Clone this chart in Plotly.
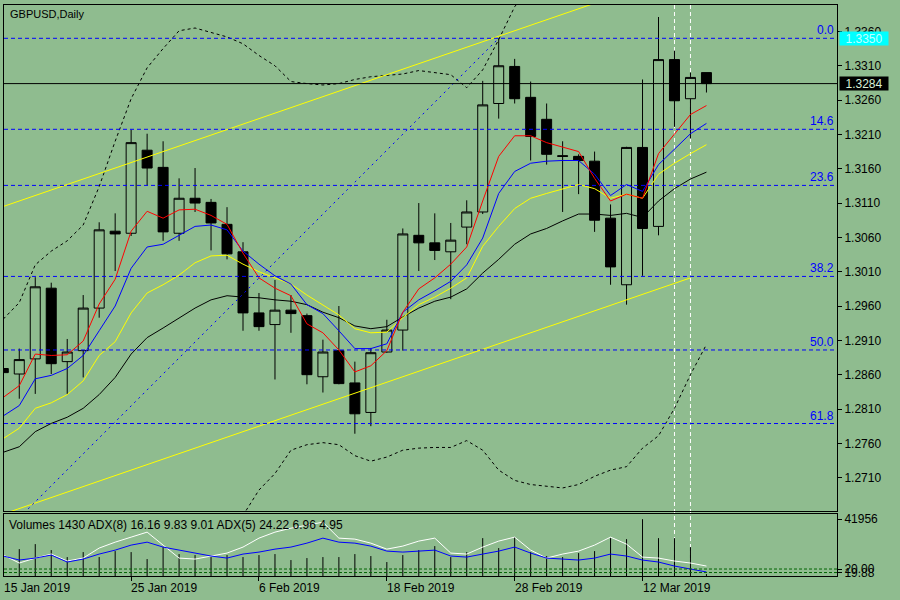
import plotly.graph_objects as go

# ---------------- data ----------------
DATES = ["2019-01-15", "2019-01-16", "2019-01-17", "2019-01-18", "2019-01-21", "2019-01-22",
         "2019-01-23", "2019-01-24", "2019-01-25", "2019-01-28", "2019-01-29", "2019-01-30",
         "2019-01-31", "2019-02-01", "2019-02-04", "2019-02-05", "2019-02-06", "2019-02-07",
         "2019-02-08", "2019-02-11", "2019-02-12", "2019-02-13", "2019-02-14", "2019-02-15",
         "2019-02-18", "2019-02-19", "2019-02-20", "2019-02-21", "2019-02-22", "2019-02-25",
         "2019-02-26", "2019-02-27", "2019-02-28", "2019-03-01", "2019-03-04", "2019-03-05",
         "2019-03-06", "2019-03-07", "2019-03-08", "2019-03-11", "2019-03-12", "2019-03-13",
         "2019-03-14", "2019-03-15", "2019-03-18"]

OPEN = [1.2869, 1.2861, 1.2883, 1.2986, 1.2879, 1.2895, 1.2957, 1.3069, 1.3066, 1.3187,
        1.3162, 1.3066, 1.3117, 1.3111, 1.3079, 1.3039, 1.2950, 1.2933, 1.2954, 1.2946,
        1.2857, 1.2895, 1.2848, 1.2805, 1.2893, 1.2925, 1.3063, 1.3052, 1.3039, 1.3075,
        1.3097, 1.3255, 1.3309, 1.3264, 1.3232, 1.3179, 1.3178, 1.3171, 1.3088, 1.2991,
        1.3191, 1.3076, 1.3319, 1.3262, 1.3300]
HIGH = [1.2874, 1.2898, 1.3002, 1.2994, 1.2912, 1.2976, 1.3082, 1.3095, 1.3217, 1.3211,
        1.3200, 1.3146, 1.3161, 1.3116, 1.3104, 1.3053, 1.2979, 1.2998, 1.2976, 1.2949,
        1.2911, 1.2960, 1.2879, 1.2899, 1.2940, 1.3073, 1.3110, 1.3095, 1.3081, 1.3114,
        1.3288, 1.3350, 1.3320, 1.3287, 1.3255, 1.3200, 1.3181, 1.3185, 1.3108, 1.3192,
        1.3290, 1.3381, 1.3332, 1.3300, 1.3300]
LOW = [1.2858, 1.2825, 1.2832, 1.2861, 1.2832, 1.2856, 1.2943, 1.3011, 1.3062, 1.3136,
       1.3055, 1.3055, 1.3097, 1.3041, 1.3028, 1.2924, 1.2924, 1.2853, 1.2921, 1.2846,
       1.2834, 1.2846, 1.2774, 1.2785, 1.2892, 1.2895, 1.3011, 1.3027, 1.2970, 1.3050,
       1.3094, 1.3233, 1.3255, 1.3172, 1.3166, 1.3097, 1.3123, 1.3068, 1.2991, 1.2962,
       1.3004, 1.3063, 1.3221, 1.3204, 1.3271]
CLOSE = [1.2863, 1.2882, 1.2988, 1.2876, 1.2893, 1.2957, 1.3071, 1.3065, 1.3198, 1.3161,
         1.3068, 1.3117, 1.3110, 1.3081, 1.3036, 1.2950, 1.2930, 1.2954, 1.2949, 1.2860,
         1.2893, 1.2847, 1.2803, 1.2892, 1.2925, 1.3065, 1.3052, 1.3041, 1.3056, 1.3097,
         1.3253, 1.3310, 1.3262, 1.3207, 1.3181, 1.3178, 1.3172, 1.3085, 1.3017, 1.3191,
         1.3073, 1.3319, 1.3259, 1.3293, 1.3284]

MA_RED = [1.2827, 1.2844, 1.2890, 1.2888, 1.2889, 1.2909, 1.2963, 1.2999, 1.3069, 1.3098,
          1.3088, 1.3100, 1.3101, 1.3092, 1.3079, 1.3037, 1.3001, 1.2986, 1.2975, 1.2934,
          1.2921, 1.2896, 1.2864, 1.2873, 1.2895, 1.2951, 1.2985, 1.3001, 1.3021, 1.3046,
          1.3113, 1.3178, 1.3208, 1.3208, 1.3198, 1.3191, 1.3185, 1.3146, 1.3113, 1.3123,
          1.3117, 1.3182, 1.3210, 1.3239, 1.3252]
MA_BLUE = [1.2800, 1.2815, 1.2854, 1.2859, 1.2869, 1.2888, 1.2924, 1.2960, 1.3015, 1.3046,
           1.3050, 1.3063, 1.3076, 1.3078, 1.3071, 1.3040, 1.3021, 1.3004, 1.2992, 1.2962,
           1.2949, 1.2924, 1.2898, 1.2898, 1.2905, 1.2951, 1.2969, 1.2982, 1.2996, 1.3020,
           1.3059, 1.3124, 1.3156, 1.3168, 1.3171, 1.3172, 1.3172, 1.3152, 1.3121, 1.3137,
           1.3127, 1.3166, 1.3188, 1.3211, 1.3226]
MA_YELLOW = [1.2767, 1.2782, 1.2811, 1.2819, 1.2831, 1.2851, 1.2888, 1.2908, 1.2950, 1.2979,
             1.2991, 1.3005, 1.3023, 1.3033, 1.3034, 1.3021, 1.3010, 1.3001, 1.2992, 1.2976,
             1.2962, 1.2947, 1.2927, 1.2921, 1.2922, 1.2943, 1.2962, 1.2973, 1.2986, 1.3001,
             1.3047, 1.3076, 1.3102, 1.3117, 1.3124, 1.3131, 1.3137, 1.3131, 1.3117, 1.3123,
             1.3117, 1.3152, 1.3168, 1.3182, 1.3195]
MA_BLACK = [1.2747, 1.2755, 1.2777, 1.2789, 1.2798, 1.2811, 1.2831, 1.2856, 1.2890, 1.2914,
            1.2928, 1.2943, 1.2957, 1.2969, 1.2975, 1.2973, 1.2972, 1.2969, 1.2967, 1.2962,
            1.2951, 1.2943, 1.2931, 1.2927, 1.2930, 1.2944, 1.2957, 1.2967, 1.2973, 1.2985,
            1.3008, 1.3028, 1.3050, 1.3065, 1.3073, 1.3084, 1.3094, 1.3094, 1.3092, 1.3095,
            1.3089, 1.3113, 1.3131, 1.3145, 1.3155]
BB_UPPER = [1.2941, 1.2965, 1.3020, 1.3040, 1.3055, 1.3078, 1.3134, 1.3200, 1.3262, 1.3307,
            1.3335, 1.3361, 1.3365, 1.3358, 1.3352, 1.3342, 1.3325, 1.3310, 1.3287, 1.3284,
            1.3282, 1.3284, 1.3290, 1.3294, 1.3296, 1.3298, 1.3303, 1.3300, 1.3297, 1.3278,
            1.3304, 1.3348, 1.3396, 1.3425, 1.3440, 1.3448, 1.3452, 1.3455, 1.3458, 1.3460,
            1.3462, 1.3460, 1.3455, 1.3450, 1.3445]
BB_LOWER = [1.2590, 1.2585, 1.2570, 1.2555, 1.2545, 1.2530, 1.2510, 1.2495, 1.2480, 1.2470,
            1.2480, 1.2500, 1.2530, 1.2570, 1.2615, 1.2655, 1.2692, 1.2716, 1.2750, 1.2758,
            1.2761, 1.2758, 1.2742, 1.2734, 1.2740, 1.2750, 1.2753, 1.2754, 1.2754, 1.2764,
            1.2750, 1.2721, 1.2706, 1.2700, 1.2697, 1.2695, 1.2700, 1.2712, 1.2721, 1.2726,
            1.2753, 1.2771, 1.2811, 1.2860, 1.2904]

VOLUME = [20000, 19874, 23555, 19139, 13986, 17666, 13986, 18402, 17666, 12514,
          21347, 16194, 15458, 13986, 15458, 13986, 15458, 16194, 11778, 13250,
          13986, 13986, 16194, 14722, 10305, 15458, 19139, 22083, 13986, 17666,
          27972, 20611, 28708, 17666, 14722, 13986, 16930, 18402, 27972, 27236,
          41956, 27972, 27972, 21347, 1430]
ADX_WHITE = [33.9, 21.0, 29.0, 35.5, 24.2, 29.0, 45.2, 54.8, 62.9, 71.0,
             50.0, 29.0, 27.4, 32.3, 37.1, 46.8, 61.3, 71.0, 77.4, 82.3,
             87.1, 61.3, 59.7, 53.2, 43.5, 48.4, 56.5, 61.3, 37.1, 35.5,
             46.8, 56.5, 62.9, 41.9, 29.0, 35.5, 40.3, 50.0, 62.9, 51.6,
             30.6, 29.0, 24.2, 21.0, 16.1]
ADX_BLUE = [32.3, 25.8, 29.0, 33.9, 22.6, 27.4, 35.5, 41.9, 50.0, 54.8,
            46.8, 41.9, 37.1, 32.3, 29.0, 35.5, 38.7, 43.5, 46.8, 53.2,
            61.3, 54.8, 53.2, 48.4, 40.3, 38.7, 40.3, 41.9, 32.3, 30.6,
            35.5, 40.3, 46.8, 37.1, 29.0, 27.4, 25.8, 29.0, 35.5, 32.3,
            25.8, 22.6, 16.1, 11.3, 6.5]
ADX_LEVELS = [11.3, 5.6]
ADX_LEVEL_LABELS = ["20.00", "19.88"]

PRICE_TICKS = [1.2710, 1.2760, 1.2810, 1.2860, 1.2910, 1.2960, 1.3010,
               1.3060, 1.3110, 1.3160, 1.3210, 1.3260, 1.3310, 1.3360]
PRICE_TICK_LABELS = ["1.2710", "1.2760", "1.2810", "1.2860", "1.2910", "1.2960", "1.3010",
                     "1.3060", "1.3110", "1.3160", "1.3210", "1.3260", "1.3310", "1.3360"]
VOL_TICKS = [41956]
VOL_TICK_LABELS = ["41956"]

DATE_TICK_DATES = ["2019-01-15", "2019-01-25", "2019-02-06", "2019-02-18", "2019-02-28", "2019-03-12"]
DATE_TICK_LABELS = ["15 Jan 2019", "25 Jan 2019", "6 Feb 2019", "18 Feb 2019", "28 Feb 2019", "12 Mar 2019"]

FIB_LEVELS = [0.0, 14.6, 23.6, 38.2, 50.0, 61.8]
FIB_LEVEL_LABELS = ["0.0", "14.6", "23.6", "38.2", "50.0", "61.8"]
FIB_HIGH, FIB_HIGH_DATE = 1.3350, "2019-02-27"
FIB_LOW, FIB_LOW_BARS_BEFORE = 1.2442, 8     # 3 Jan 2019, before the visible window

CH_END_DATE = "2019-03-15"
CH_LOWER_END = 1.3001
CH_SLOPE = 0.0008      # price per bar
CH_WIDTH = 0.0448
CH_START_BAR = -1

BID = 1.3284
HLINE_PRICE = 1.3350
VLINE_DATES = ["2019-03-14", "2019-03-15"]

TITLE = "GBPUSD,Daily"
SUB_LABEL = "Volumes 1430 ADX(8) 16.16 9.83 9.01 ADX(5) 24.22 6.96 4.95"

# ---------------- styling / geometry ----------------
BG = "#8fbc8f"
FONT = "Liberation Sans, Arial, sans-serif"
W, H = 900, 600
ML, MR, MT, MB = 3, 63, 3, 24
PLOT_W = W - ML - MR
PLOT_H = H - MT - MB
MAIN_BOTTOM_PX, SUB_TOP_PX = 511, 514
MAIN_DOMAIN = [(H - MB - MAIN_BOTTOM_PX) / PLOT_H, 1.0]
SUB_DOMAIN = [0.0, (H - MB - SUB_TOP_PX) / PLOT_H]
X_RANGE = [0.044, 52.17]
Y_RANGE = [1.26611, 1.33985]
VOL_RANGE = [0, 45636]


def xp(px):
    return (px - ML) / PLOT_W


def yp(py):
    return (H - MB - py) / PLOT_H


idx = list(range(len(DATES)))
pos = {d: i for i, d in enumerate(DATES)}

fig = go.Figure()

fig.add_trace(go.Candlestick(
    x=idx, open=OPEN, high=HIGH, low=LOW, close=CLOSE,
    increasing=dict(line=dict(color="black", width=1), fillcolor=BG),
    decreasing=dict(line=dict(color="black", width=1), fillcolor="black"),
    whiskerwidth=0, xaxis="x", yaxis="y", hoverinfo="skip"))

for band in (BB_UPPER, BB_LOWER):
    fig.add_trace(go.Scatter(x=idx, y=band, mode="lines",
                             line=dict(color="black", width=1, dash="3px,3px"),
                             xaxis="x", yaxis="y"))

for series, col in ((MA_BLACK, "#000000"), (MA_YELLOW, "#ffff00"),
                    (MA_BLUE, "#0000ff"), (MA_RED, "#ff0000")):
    fig.add_trace(go.Scatter(x=idx, y=series, mode="lines",
                             line=dict(color=col, width=1), xaxis="x", yaxis="y"))

# equidistant channel (yellow)
ch_end = pos[CH_END_DATE]
ch_x = [CH_START_BAR, ch_end]
lower_y = [CH_LOWER_END - CH_SLOPE * (ch_end - b) for b in ch_x]
upper_y = [v + CH_WIDTH for v in lower_y]
for yy in (upper_y, lower_y):
    fig.add_trace(go.Scatter(x=ch_x, y=yy, mode="lines",
                             line=dict(color="#ffff00", width=1), xaxis="x", yaxis="y"))

# fibonacci trend line
fig.add_trace(go.Scatter(x=[-FIB_LOW_BARS_BEFORE, pos[FIB_HIGH_DATE]], y=[FIB_LOW, FIB_HIGH],
                         mode="lines", line=dict(color="#0000ff", width=1, dash="2px,4px"),
                         xaxis="x", yaxis="y"))

# volumes (sub window)
vx, vy = [], []
for i, v in zip(idx, VOLUME):
    vx += [i, i, None]
    vy += [0, v, None]
fig.add_trace(go.Scatter(x=vx, y=vy, mode="lines", line=dict(color="black", width=1),
                         xaxis="x2", yaxis="y2"))
fig.add_trace(go.Scatter(x=idx, y=ADX_WHITE, mode="lines", line=dict(color="white", width=1),
                         xaxis="x2", yaxis="y3"))
fig.add_trace(go.Scatter(x=idx, y=ADX_BLUE, mode="lines", line=dict(color="#0000ff", width=1),
                         xaxis="x2", yaxis="y3"))

shapes = []
for lvl in FIB_LEVELS:
    p = FIB_HIGH - (FIB_HIGH - FIB_LOW) * lvl / 100.0
    shapes.append(dict(type="line", xref="x domain", yref="y", x0=0, x1=1, y0=p, y1=p,
                       line=dict(color="#0000ff", width=1, dash="4px,3px")))
shapes.append(dict(type="line", xref="x domain", yref="y", x0=0, x1=1, y0=BID, y1=BID,
                   line=dict(color="black", width=1)))
for d in VLINE_DATES:
    shapes.append(dict(type="line", xref="x", yref="paper", x0=pos[d], x1=pos[d], y0=0, y1=1,
                       layer="below", line=dict(color="white", width=1, dash="4px,3px")))
for lv in ADX_LEVELS:
    shapes.append(dict(type="line", xref="x2 domain", yref="y3", x0=0, x1=1, y0=lv, y1=lv,
                       line=dict(color="#006400", width=1, dash="3px,2px")))

ann = []
ann.append(dict(text=TITLE, xref="paper", yref="paper", x=xp(7), y=yp(12), xanchor="left",
                yanchor="middle", showarrow=False, font=dict(size=11, color="black", family=FONT)))
ann.append(dict(text=SUB_LABEL, xref="paper", yref="paper", x=xp(6), y=yp(525), xanchor="left",
                yanchor="middle", showarrow=False, font=dict(size=12, color="black", family=FONT)))
for lvl, lab in zip(FIB_LEVELS, FIB_LEVEL_LABELS):
    p = FIB_HIGH - (FIB_HIGH - FIB_LOW) * lvl / 100.0
    ann.append(dict(text=lab, xref="paper", yref="y", x=xp(836), y=p, xanchor="right",
                    yanchor="bottom", showarrow=False, yshift=-1,
                    font=dict(size=12, color="#0000ff", family=FONT)))
ann.append(dict(text=f"{HLINE_PRICE:.4f}", xref="paper", yref="y", x=xp(839), y=HLINE_PRICE,
                xanchor="left", yanchor="middle", showarrow=False, bgcolor="#00ffff",
                width=46, height=11, borderpad=1,
                font=dict(size=12, color="#c0ffff", family=FONT)))
ann.append(dict(text=f"{BID:.4f}", xref="paper", yref="y", x=xp(839), y=BID,
                xanchor="left", yanchor="middle", showarrow=False, bgcolor="black",
                width=46, height=11, borderpad=1,
                font=dict(size=12, color="#d8f0d8", family=FONT)))
for d, lab in zip(DATE_TICK_DATES, DATE_TICK_LABELS):
    ann.append(dict(text=lab, xref="x2", yref="paper", x=max(pos[d], X_RANGE[0] + 0.01),
                    y=yp(588), xanchor="left", yanchor="middle", showarrow=False, xshift=-2,
                    font=dict(size=12, color="black", family=FONT)))

axis_common = dict(showline=True, linecolor="black", linewidth=1, mirror=True,
                   showgrid=False, zeroline=False)

fig.update_layout(
    width=W, height=H, margin=dict(l=ML, r=MR, t=MT, b=MB),
    paper_bgcolor=BG, plot_bgcolor=BG, showlegend=False, hovermode=False,
    boxgap=0.375, boxgroupgap=0,
    font=dict(family=FONT, size=12, color="black"),
    xaxis=dict(domain=[0, 1], range=X_RANGE, anchor="y", showticklabels=False, ticks="",
               rangeslider=dict(visible=False), **axis_common),
    yaxis=dict(domain=MAIN_DOMAIN, range=Y_RANGE, side="right", anchor="x",
               tickvals=PRICE_TICKS, ticktext=PRICE_TICK_LABELS, ticks="outside",
               ticklen=4, tickcolor="black", tickfont=dict(size=12, family=FONT),
               **axis_common),
    xaxis2=dict(domain=[0, 1], matches="x", anchor="y2", showticklabels=False,
                tickvals=[pos[d] for d in DATE_TICK_DATES], ticks="outside", ticklen=4,
                tickcolor="black", **axis_common),
    yaxis2=dict(domain=SUB_DOMAIN, range=VOL_RANGE, side="right", anchor="x2",
                tickvals=VOL_TICKS, ticktext=VOL_TICK_LABELS, ticks="outside", ticklen=4,
                tickcolor="black", tickfont=dict(size=12, family=FONT), **axis_common),
    yaxis3=dict(overlaying="y2", range=[0, 100], side="right", anchor="x2",
                tickvals=ADX_LEVELS, ticktext=ADX_LEVEL_LABELS, ticks="outside", ticklen=4,
                tickcolor="black", tickfont=dict(size=12, family=FONT),
                showgrid=False, zeroline=False, showline=False),
    shapes=shapes, annotations=ann,
)

fig.write_html("out.html", config={"staticPlot": True},
               post_script="document.body.style.margin='0';document.body.style.overflow='hidden';")
